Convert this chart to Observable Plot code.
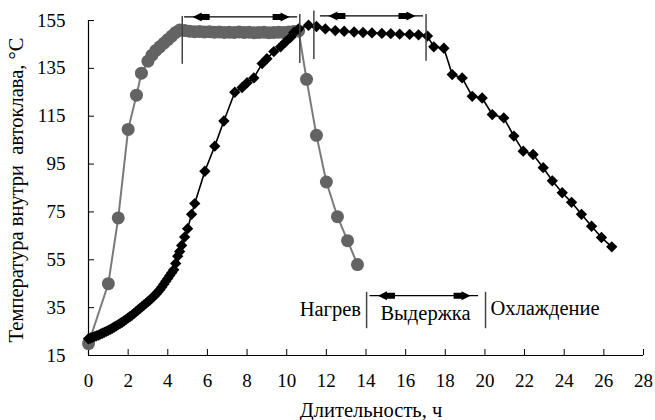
<!DOCTYPE html>
<html>
<head>
<meta charset="utf-8">
<script src="https://cdn.jsdelivr.net/npm/d3@7"></script>
<script src="https://cdn.jsdelivr.net/npm/@observablehq/plot@0.6"></script>
<style>
  html, body { margin: 0; padding: 0; background: #fff; }
  #chart { width: 655px; height: 420px; }
</style>
</head>
<body>
<div id="chart"></div>
<script>
// ---- data ----
const greyX = [0, 1.0, 1.5, 2.0, 2.42, 2.67, 3.0, 3.2, 3.4, 3.6, 3.8, 4.0, 4.2, 4.4, 4.6,
  4.85, 5.1, 5.35, 5.6, 5.85, 6.1, 6.35, 6.6, 6.85, 7.1, 7.35, 7.6, 7.85, 8.1, 8.35, 8.6, 8.85, 9.1, 9.35, 9.6, 9.85, 10.1, 10.35, 10.6,
  11.0, 11.5, 12.0, 12.56, 13.07, 13.57];
const greyY = [20, 45, 72.5, 109.5, 123.8, 133, 138, 140.5, 142.5, 144, 145.5, 147, 148.5, 150, 151,
  150.8, 150.5, 150.3, 150.4, 150.2, 150.3, 150.1, 150.2, 150, 150.1, 150, 150.2, 150, 150.1, 149.9, 150, 150.1, 149.9, 150, 150.1, 150, 150.2, 150.4, 150.6,
  130.4, 107, 87.5, 73, 63, 53];

const blackX = [0, 0.1, 0.2, 0.3, 0.4, 0.5, 0.6, 0.7, 0.8, 0.9, 1.0, 1.1, 1.2, 1.3, 1.4, 1.5, 1.6, 1.7, 1.8, 1.9,
  2.0, 2.1, 2.2, 2.3, 2.4, 2.5, 2.6, 2.7, 2.8, 2.9, 3.0, 3.1, 3.2, 3.3, 3.4, 3.5, 3.6, 3.7, 3.8, 3.9,
  4.0, 4.1, 4.2, 4.3, 4.4, 4.5, 4.6, 4.7, 4.85, 5.0, 5.2, 5.36,
  5.87, 6.37, 6.83, 7.38, 7.75, 8.0, 8.34, 8.76, 9.0, 9.35, 9.69, 9.94, 10.2, 10.36, 10.6, 11.1,
  11.5, 11.95, 12.45, 12.9, 13.4, 13.85, 14.3, 14.8, 15.25, 15.7, 16.2, 16.65, 17.1,
  17.42, 17.93, 18.35, 18.85, 19.36, 19.86, 20.37, 20.95, 21.46, 21.93, 22.43, 22.94, 23.4, 23.9, 24.37, 24.87, 25.38, 25.88, 26.4];
const blackY = [22, 22.3, 22.6, 22.9, 23.2, 23.5, 23.9, 24.3, 24.7, 25.1, 25.5, 25.9, 26.4, 26.9, 27.4, 27.9, 28.4, 28.9, 29.5, 30.1,
  30.7, 31.3, 31.9, 32.6, 33.3, 34.0, 34.7, 35.4, 36.1, 36.8, 37.5, 38.2, 39.0, 39.8, 40.6, 41.5, 42.5, 43.6, 44.8, 46.0,
  47.2, 48.4, 49.6, 50.8, 53.5, 56.5, 58.5, 61, 64.5, 68, 74, 78.5,
  92, 102.5, 113, 125, 127, 129, 131, 137, 139, 142, 144, 146, 148, 150, 151.5, 153,
  152.5, 151.5, 150.8, 150.5, 150.2, 150, 149.8, 149.6, 149.5, 149.3, 149.2, 149, 148.5,
  144, 143.4, 132.4, 131, 123.3, 122.6, 115.7, 114.3, 106.7, 100.4, 99, 93.5, 88, 83, 79, 74, 69, 64.3, 60.4];

const xTicks = [0, 2, 4, 6, 8, 10, 12, 14, 16, 18, 20, 22, 24, 26, 28];
const yTicks = [15, 35, 55, 75, 95, 115, 135, 155];

const xLabel = "Длительность, ч";
const yLabel = "Температура внутри  автоклава, °С";

// phase markers (vertical separators) and double arrows
const sepX  = [4.73, 10.66, 11.37, 17.03, 14.03, 20.03];
const sepY1 = [136.7, 137, 138.7, 138, 26.2, 26.2];
const sepY2 = [156.7, 157.5, 159, 157.5, 41.4, 41.4];

const arrowX1 = [4.85, 11.7, 14.2];
const arrowX2 = [10.55, 16.9, 19.68];
const arrowY  = [156.5, 156.9, 40];

const phaseText = ["Нагрев", "Выдержка", "Охлаждение"];
const phaseX = [13.75, 17.0, 20.28];
const phaseY = [34.4, 32.5, 34.6];
const phaseAnchor = ["end", "middle", "start"];

// ---- build ----
const grey = greyX.map((x, i) => ({x, y: greyY[i]}));
const black = blackX.map((x, i) => ({x, y: blackY[i]}));
const seps = sepX.map((x, i) => ({x, y1: sepY1[i], y2: sepY2[i]}));
const arrows = arrowX1.map((x1, i) => ({x1, x2: arrowX2[i], y: arrowY[i]}));
const phases = phaseText.map((t, i) => ({t, x: phaseX[i], y: phaseY[i], a: phaseAnchor[i]}));

// arrow head symbols: "◀■" block pointing outward
function headSymbol(dir) {
  return {
    draw(ctx) {
      const s = dir; // -1 => left end, +1 => right end
      ctx.moveTo(s * -8, 0);
      ctx.lineTo(s * -17, -4.5);
      ctx.lineTo(s * -17, 4.5);
      ctx.closePath();
      ctx.moveTo(s * -16, -3);
      ctx.lineTo(s * -25, -3);
      ctx.lineTo(s * -25, 3);
      ctx.lineTo(s * -16, 3);
      ctx.closePath();
    }
  };
}
const leftHead = headSymbol(-1);
const rightHead = headSymbol(1);

const textFont = 20.5;

const chart = Plot.plot({
  width: 655,
  height: 420,
  marginLeft: 88,
  marginRight: 12,
  marginTop: 20,
  marginBottom: 65,
  x: {domain: [0, 28]},
  y: {domain: [15, 155]},
  style: {fontFamily: "'Liberation Serif', 'Times New Roman', serif", fontSize: "18px", color: "#000", background: "#fff"},
  marks: [
    Plot.axisX({ticks: xTicks, tickSize: -6, tickPadding: 24, label: null, fontSize: 19}),
    Plot.axisY({ticks: yTicks, tickSize: -6, tickPadding: 29, label: null, fontSize: 19}),
    Plot.ruleX([0], {stroke: "#000", strokeWidth: 1.2}),
    Plot.ruleY([15], {stroke: "#000", strokeWidth: 1.2}),
    // grey series
    Plot.line(grey, {x: "x", y: "y", stroke: "#7a7a7a", strokeWidth: 2}),
    Plot.dot(grey, {x: "x", y: "y", fill: "#636363", r: 6.5, stroke: "none"}),
    // black series
    Plot.line(black, {x: "x", y: "y", stroke: "#000", strokeWidth: 1.6}),
    Plot.dot(black, {x: "x", y: "y", symbol: "diamond2", fill: "#000", r: 5.1, stroke: "none"}),
    // separators
    Plot.ruleX(seps, {x: "x", y1: "y1", y2: "y2", stroke: "#444", strokeWidth: 1.5}),
    // double arrows
    Plot.ruleY(arrows, {x1: "x1", x2: "x2", y: "y", stroke: "#000", strokeWidth: 1.2}),
    Plot.dot(arrows, {x: "x1", y: "y", symbol: leftHead, fill: "#000", stroke: "none", r: 5}),
    Plot.dot(arrows, {x: "x2", y: "y", symbol: rightHead, fill: "#000", stroke: "none", r: 5}),
    // phase labels
    Plot.text(phases, {x: "x", y: "y", text: "t", textAnchor: "end", fontSize: textFont, filter: d => d.a === "end"}),
    Plot.text(phases, {x: "x", y: "y", text: "t", textAnchor: "middle", fontSize: textFont, filter: d => d.a === "middle"}),
    Plot.text(phases, {x: "x", y: "y", text: "t", textAnchor: "start", fontSize: textFont, filter: d => d.a === "start"}),
    // axis titles
    Plot.text([xLabel], {frameAnchor: "bottom", textAnchor: "middle", lineAnchor: "middle", dx: 5, dy: 55, fontSize: textFont}),
    Plot.text([yLabel], {frameAnchor: "left", textAnchor: "middle", lineAnchor: "middle", dx: -72, dy: 2, rotate: -90, fontSize: textFont})
  ]
});
document.getElementById("chart").appendChild(chart);
</script>
</body>
</html>
